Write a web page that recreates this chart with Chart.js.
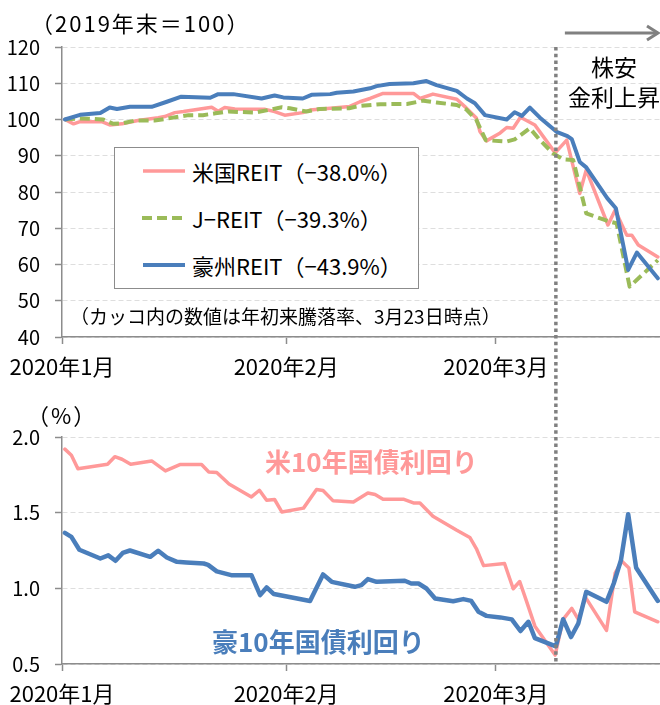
<!DOCTYPE html>
<html><head><meta charset="utf-8">
<script src="https://cdn.jsdelivr.net/npm/chart.js@4.4.1/dist/chart.umd.min.js"></script>
<style>
body{margin:0;background:#fff;font-family:"Noto Sans CJK JP","Noto Sans",sans-serif;}
#wrap{position:relative;width:660px;height:705px;overflow:hidden;background:#fff;}
canvas{position:absolute;left:0;}
.t{position:absolute;white-space:nowrap;color:#000;}
#legend{position:absolute;left:114px;top:147px;width:303px;height:140px;border:1px solid #8c8c8c;background:#fff;}
.li{position:absolute;left:0;height:26px;line-height:26px;font-size:22px;white-space:nowrap;}
.li svg{position:absolute;left:27px;top:1px;}
.li span{position:absolute;left:77px;top:0;}
</style></head>
<body><div id="wrap">
<canvas id="top" width="660" height="390" style="top:0"></canvas>
<canvas id="bot" width="660" height="315" style="top:390px"></canvas>

<div class="t" style="left:31px;top:9px;font-size:22px;line-height:26px;letter-spacing:2px;">（2019年末＝100）</div>
<div id="legend">
  <div class="li" style="top:10px"><svg width="44" height="24"><line x1="1" y1="12" x2="43" y2="12" stroke="#FF9999" stroke-width="3.5"/></svg><span>米国REIT（−38.0%）</span></div>
  <div class="li" style="top:57px"><svg width="44" height="24"><line x1="0" y1="12" x2="44" y2="12" stroke="#9BBB59" stroke-width="4" stroke-dasharray="10,5"/></svg><span>J−REIT（−39.3%）</span></div>
  <div class="li" style="top:104px"><svg width="44" height="24"><line x1="1" y1="12" x2="43" y2="12" stroke="#4A7EBB" stroke-width="4"/></svg><span>豪州REIT（−43.9%）</span></div>
</div>
<div class="t" style="left:70px;top:304px;font-size:19px;line-height:24px;">（カッコ内の数値は年初来騰落率、3月23日時点）</div>
<div class="t" style="left:514px;width:200px;text-align:center;top:52px;font-size:23px;line-height:28px;">株安</div>
<div class="t" style="left:514px;width:200px;text-align:center;top:82px;font-size:23px;line-height:28px;">金利上昇</div>
<div class="t" style="left:27px;top:401px;font-size:22px;line-height:26px;letter-spacing:2px;">（%）</div>
<div class="t" style="left:265px;top:446px;font-size:26px;line-height:30px;font-weight:bold;color:#FF9999;">米10年国債利回り</div>
<div class="t" style="left:212px;top:626px;font-size:26px;line-height:30px;font-weight:bold;color:#4A7EBB;">豪10年国債利回り</div>
</div>
<script>
// x values: days after the 2020-01-01 axis tick
const monthTickDays = [0, 31, 60];
const monthTickLabels = ['2020年1月', '2020年2月', '2020年3月'];
const shockDay = 68.3; // 3月9日前後

// REIT indices (2019年末=100)
const usReitDays = [0.4,1.6,2.5,5.5,6.6,8.3,10.5,13.3,14.2,15.6,16.8,20.7,21.6,22.5,23.9,27.1,28.1,29.4,30.8,33.3,34.3,37.1,39.8,41.2,42.6,44.4,48.6,49.5,51.3,54.6,55.9,57.3,57.8,58.7,60.6,61.5,62.4,63.4,65.4,68.2,69.8,71.6,72.5,75.5,76.5,78.1,78.8,79.7,82.4];
const usReitVals = [100,98.8,99.4,99.4,98.5,98.8,99.7,100.5,100.8,101.9,102.2,103.4,102.3,103.3,102.9,102.8,102.8,102.2,101.2,101.9,102.6,103.1,103.6,104.9,105.8,107.2,107.2,105.8,107.0,105.6,103.2,100.4,96.7,94.1,96.3,97.8,97.6,100.6,98.5,90.8,94.3,79.6,86.1,70.9,75.0,68.1,68.1,65.4,62.1];
const jReitDays = [0.4,2.5,5.7,7.1,8.2,10.1,12.8,14.7,17.5,19.5,21.2,23.0,26.7,29.0,30.4,31.5,33.8,35.6,39.7,41.0,44.0,47.7,50.0,51.8,54.6,55.9,57.3,58.6,61.5,62.6,64.7,66.1,67.9,69.3,70.7,72.5,75.8,76.7,78.5,82.4];
const jReitVals = [100,100.3,100.0,98.8,98.9,99.7,99.7,100.3,101.2,101.2,101.7,102.2,101.9,102.8,103.4,103.1,102.2,102.9,103.1,103.7,104.2,104.3,105.2,104.7,104.0,102.8,99.9,94.3,93.9,94.5,97.6,94.3,90.7,89.0,88.8,74.1,71.8,71.4,53.9,61.2];
const auReitDays = [0.4,2.5,5.3,6.6,7.6,9.4,12.4,14.5,16.5,20.5,21.6,23.7,27.6,29.4,30.6,33.3,34.5,37.1,38.0,40.3,42.6,43.5,45.3,48.6,50.4,51.8,54.6,56.0,57.1,58.5,61.5,62.6,63.6,64.7,66.1,68.4,69.9,70.5,71.6,72.5,75.4,76.6,78.3,79.5,82.4];
const auReitVals = [100,101.3,101.8,103.3,102.9,103.5,103.5,104.9,106.3,106.0,107.0,107.0,105.8,106.6,106.1,105.8,106.8,107.0,107.4,107.7,108.6,109.2,109.8,110.0,110.6,109.5,107.9,105.8,104.5,101.2,100.0,102.0,101.0,103.3,100.5,96.6,95.4,94.6,88.3,86.8,78.3,75.5,58.5,63.3,56.2];

// 10-year government bond yields (%)
const usYieldDays = [0.4,1.3,2.2,6.3,7.3,8.3,9.5,12.4,14.3,16.3,19.3,20.3,21.4,23.1,26.2,27.3,28.3,29.4,30.4,33.4,35.2,36.1,37.5,40.3,42.3,43.3,44.4,47.2,48.6,49.5,51.3,54.6,56.4,57.3,58.3,61.2,62.4,63.3,64.2,65.4,68.2,69.3,70.5,71.4,72.4,75.3,76.5,77.4,78.4,79.2,82.4];
const usYieldVals = [1.92,1.88,1.79,1.82,1.87,1.853,1.82,1.842,1.776,1.818,1.818,1.769,1.765,1.69,1.604,1.648,1.582,1.587,1.505,1.53,1.653,1.646,1.578,1.571,1.63,1.62,1.589,1.589,1.564,1.564,1.477,1.384,1.336,1.263,1.15,1.164,0.997,1.045,0.92,0.75,0.559,0.795,0.867,0.795,0.94,0.722,1.10,1.18,1.135,0.845,0.779];
const auYieldDays = [0.4,1.3,2.4,5.3,6.4,7.4,8.4,9.4,12.2,13.3,14.5,15.9,17.2,19.6,20.2,21.4,23.4,26.2,27.4,28.3,29.3,34.3,36.1,37.3,40.5,41.4,42.3,43.5,47.4,48.3,49.3,50.4,51.6,54.1,55.5,56.6,57.6,58.7,60.6,62.2,63.4,64.5,65.4,68.3,69.3,70.4,71.4,72.5,75.3,76.3,77.3,78.3,79.4,82.4];
const auYieldVals = [1.366,1.34,1.255,1.197,1.218,1.182,1.234,1.25,1.208,1.248,1.204,1.175,1.171,1.164,1.155,1.112,1.087,1.087,0.955,1.006,0.962,0.916,1.092,1.043,1.010,1.021,1.061,1.043,1.050,1.032,1.032,0.999,0.933,0.915,0.929,0.917,0.845,0.818,0.808,0.795,0.718,0.779,0.671,0.617,0.796,0.678,0.768,0.977,0.911,1.032,1.186,1.490,1.136,0.917];

const PINK = '#FF9999', GREEN = '#9BBB59', BLUE = '#4A7EBB', AXIS = '#8c8c8c', GRID = '#dedede';
Chart.defaults.font.family = '"Noto Sans CJK JP","Noto Sans",sans-serif';
Chart.defaults.color = '#000';

const pts = (d, v) => d.map((x, i) => ({x, y: v[i]}));
function line(data, color, width, order, dash) {
  return {data, borderColor: color, borderWidth: width, pointRadius: 0, tension: 0, order,
    borderDash: dash || [], borderJoinStyle: 'round', borderCapStyle: dash ? 'butt' : 'round', fill: false};
}
function xScale(h) {
  return {type: 'linear', min: 0, max: 82.7,
    afterBuildTicks: s => { s.ticks = monthTickDays.map(v => ({value: v})); },
    afterFit: s => { s.height = h; },
    ticks: {autoSkip: false, maxRotation: 0, padding: 9, font: {size: 22},
      callback: (v, i) => monthTickLabels[i]},
    grid: {drawOnChartArea: false, drawTicks: true, tickLength: 7, tickColor: AXIS, tickWidth: 1.5},
    border: {display: true, color: AXIS, width: 1.5}};
}
function yScale(min, max, step, fmt) {
  return {min, max, afterFit: s => { s.width = 62; },
    ticks: {stepSize: step, padding: 15, font: {size: 20}, callback: fmt},
    grid: {color: GRID, lineWidth: 1, drawTicks: true, tickLength: 7, tickColor: AXIS, tickWidth: 1.5, tickBorderDash: []},
    border: {display: true, color: AXIS, width: 1.5, dash: [5, 3]}};
}
function shockPlugin(isTop) {
  return {id: 'shock' + (isTop ? 'T' : 'B'), afterDatasetsDraw(chart) {
    const ctx = chart.ctx, a = chart.chartArea, x = chart.scales.x.getPixelForValue(shockDay);
    ctx.save();
    ctx.strokeStyle = '#808080'; ctx.lineWidth = 3.5; ctx.setLineDash([3.5, 3.2]);
    ctx.beginPath();
    ctx.moveTo(x, isTop ? a.top : 0); ctx.lineTo(x, isTop ? chart.height : a.bottom - 2);
    ctx.stroke();
    if (isTop) {
      ctx.setLineDash([]); ctx.lineWidth = 3; ctx.lineJoin = 'miter';
      const y = 33, xe = a.right - 2;
      ctx.beginPath(); ctx.moveTo(x + 9, y); ctx.lineTo(xe, y); ctx.stroke();
      ctx.beginPath(); ctx.moveTo(xe - 11, y - 7); ctx.lineTo(xe, y); ctx.lineTo(xe - 11, y + 7); ctx.stroke();
    }
    ctx.restore();
  }};
}
const common = {responsive: false, animation: false, devicePixelRatio: 1,
  plugins: {legend: {display: false}, tooltip: {enabled: false}}};

new Chart(document.getElementById('top'), {
  type: 'line',
  data: {datasets: [
    line(pts(usReitDays, usReitVals), PINK, 3.5, 3),
    line(pts(jReitDays, jReitVals), GREEN, 4, 2, [10, 5]),
    line(pts(auReitDays, auReitVals), BLUE, 4, 1)
  ]},
  options: Object.assign({}, common, {
    layout: {padding: {top: 47, left: 0, right: 0, bottom: 0}},
    scales: {x: xScale(53), y: yScale(40, 120, 10, v => String(v))}
  }),
  plugins: [shockPlugin(true)]
});

new Chart(document.getElementById('bot'), {
  type: 'line',
  data: {datasets: [
    line(pts(usYieldDays, usYieldVals), PINK, 3.5, 2),
    line(pts(auYieldDays, auYieldVals), BLUE, 4.5, 1)
  ]},
  options: Object.assign({}, common, {
    layout: {padding: {top: 47, left: 0, right: 0, bottom: 0}},
    scales: {x: xScale(41), y: yScale(0.5, 2.0, 0.5, v => Number(v).toFixed(1))}
  }),
  plugins: [shockPlugin(false)]
});
</script>
</body></html>
